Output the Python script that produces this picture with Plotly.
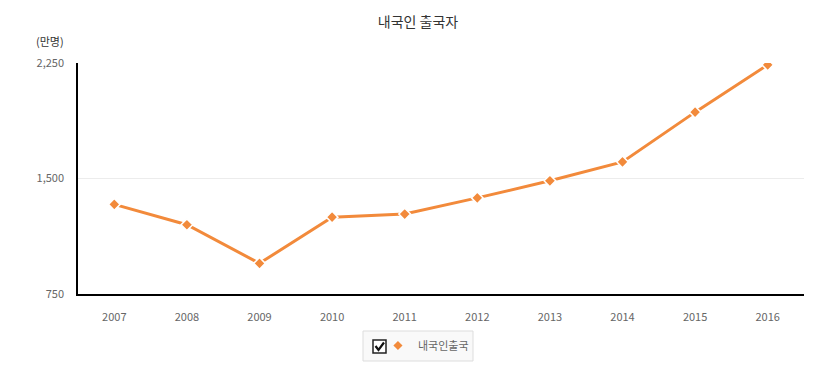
import plotly.graph_objects as go

years = ["2007", "2008", "2009", "2010", "2011", "2012", "2013", "2014", "2015", "2016"]
outbound = [1332, 1200, 949, 1249, 1269, 1374, 1485, 1608, 1931, 2238]
series_name = "내국인출국"
title_text = "내국인 출국자"
unit_text = "(만명)"
y_ticks = [750, 1500, 2250]

ORANGE = "#f28a3b"
FONT = "Noto Sans CJK KR, Noto Sans, sans-serif"

W, H = 836, 373
ML, MR, MT, MB = 78, 32, 63, 79
PW, PH = W - ML - MR, H - MT - MB


def px(x):
    return (x - ML) / PW


def py(y):
    return (H - MB - y) / PH


fig = go.Figure()
fig.add_trace(go.Scatter(
    x=years, y=outbound, mode="lines+markers", showlegend=False,
    line=dict(color=ORANGE, width=3),
    marker=dict(symbol="diamond", size=9, color=ORANGE, line=dict(color="white", width=1.5)),
    hoverinfo="x+y",
))
# legend entry (marker only)
fig.add_trace(go.Scatter(
    x=[None], y=[None], mode="markers", name=series_name,
    marker=dict(symbol="diamond", size=7, color=ORANGE),
))

# legend box + checkbox drawn as shapes behind the (transparent) legend
shapes = [
    dict(type="rect", xref="paper", yref="paper",
         x0=px(363), x1=px(473), y0=py(361), y1=py(331),
         line=dict(color="#dddddd", width=1), fillcolor="#f9f9f9", layer="above"),
    dict(type="rect", xref="paper", yref="paper",
         x0=px(373), x1=px(386), y0=py(353), y1=py(340),
         line=dict(color="#222", width=1.5), fillcolor="white", layer="above"),
    dict(type="path", xref="paper", yref="paper",
         path=f"M {px(375.5)} {py(346)} L {px(378.5)} {py(350)} L {px(384)} {py(342.5)}",
         line=dict(color="#111", width=2.2), layer="above"),
]

fig.update_layout(
    width=W, height=H,
    margin=dict(l=ML, r=MR, t=MT, b=MB),
    paper_bgcolor="white", plot_bgcolor="white",
    font=dict(family=FONT, size=11, color="#666"),
    title=dict(text=title_text, x=0.5, xanchor="center", y=1 - 22 / H, yanchor="middle",
               font=dict(size=14, color="#333", family=FONT)),
    xaxis=dict(
        type="category", range=[-0.5, 9.5], showgrid=False,
        showline=True, linecolor="#000", linewidth=1.5,
        ticks="outside", ticklen=12, tickcolor="rgba(0,0,0,0)",
        tickfont=dict(size=11, color="#666"), fixedrange=True, automargin=False,
    ),
    yaxis=dict(
        range=[750, 2250], tickvals=y_ticks, tickformat=",",
        showgrid=True, gridcolor="#ececec", gridwidth=1,
        showline=True, linecolor="#000", linewidth=1.5,
        zeroline=False, ticks="outside", ticklen=10, tickcolor="rgba(0,0,0,0)",
        tickfont=dict(size=11, color="#666"), fixedrange=True, automargin=False,
    ),
    showlegend=True,
    legend=dict(
        orientation="h", x=px(363), xanchor="left",
        yref="container", y=1 - 331 / H, yanchor="top",
        borderwidth=0, bgcolor="rgba(0,0,0,0)",
        font=dict(size=11, color="#666", family=FONT),
        title=dict(text="&nbsp;&nbsp;", font=dict(size=11, family=FONT), side="left"),
        itemwidth=30, tracegroupgap=0,
    ),
    shapes=shapes,
    annotations=[dict(
        text=unit_text, xref="paper", yref="paper", x=px(66), y=py(41),
        xanchor="right", yanchor="middle", showarrow=False,
        font=dict(size=11, color="#333", family=FONT),
    )],
)

fig.write_html("out.html", config={"displayModeBar": False},
               post_script="document.body.style.margin='0';")
